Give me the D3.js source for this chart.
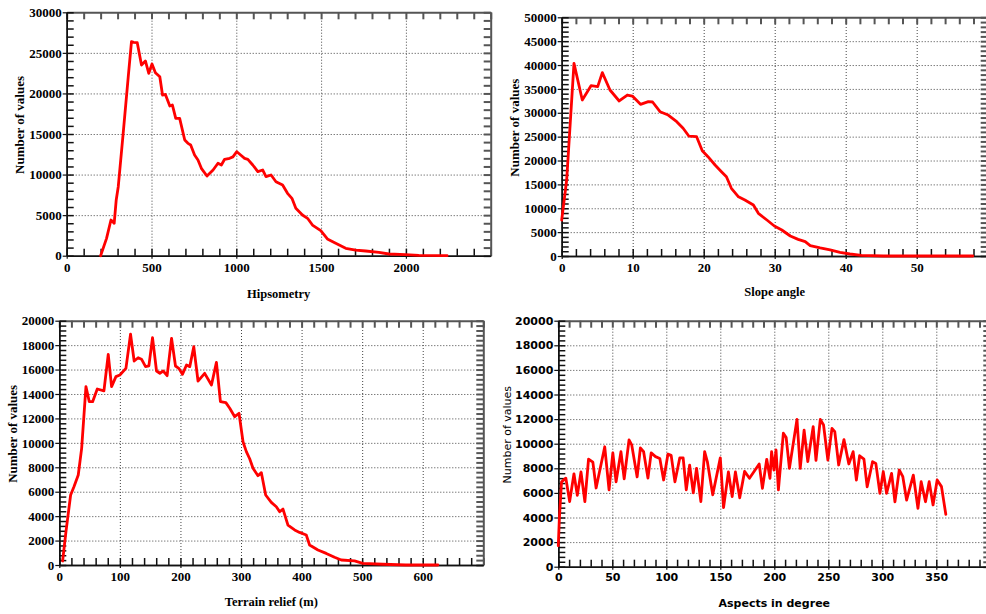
<!DOCTYPE html>
<html>
<head>
<meta charset="utf-8">
<script src="https://cdn.jsdelivr.net/npm/d3@7"></script>
<style>
  body { margin: 0; background: #fff; }
</style>
</head>
<body>
<svg id="chart" width="986" height="614"></svg>
<script>
// Hipsometry (elevation, number of cells)
const hipsoElev = [200, 235, 261, 280, 292, 304, 333, 363, 382, 395, 416, 441, 464, 484, 503, 523, 549, 565, 582, 608, 623, 643, 666, 696, 715, 731, 754, 774, 794, 827, 863, 892, 912, 931, 961, 980, 1003, 1029, 1049, 1068, 1097, 1127, 1156, 1175, 1205, 1234, 1273, 1302, 1328, 1351, 1390, 1420, 1449, 1498, 1537, 1586, 1645, 1704, 1763, 1841, 1900, 1998, 2076, 2243]
const hipsoCount = [0, 2140, 4400, 3990, 6870, 8500, 15090, 22060, 26380, 26300, 26250, 23500, 24000, 22480, 23630, 22560, 22060, 19800, 19880, 18450, 18580, 16930, 16930, 14260, 13850, 13650, 12410, 11800, 10770, 9820, 10560, 11390, 11180, 11880, 12000, 12180, 12820, 12350, 12000, 11880, 11180, 10360, 10560, 9740, 9950, 9120, 8710, 7690, 7070, 5840, 5020, 4610, 3780, 3080, 2060, 1530, 910, 700, 580, 420, 210, 130, 50, 0]

// Slope angle (degrees, number of cells)
const slopeDeg = [0, 0.7, 1.73, 2.9, 4.13, 5.07, 5.72, 6.8, 8.1, 9.24, 9.95, 11.1, 12.2, 12.8, 13.85, 15.0, 16.2, 17.1, 17.9, 19.0, 19.8, 20.6, 21.6, 22.5, 23.2, 23.9, 24.9, 25.8, 27.0, 27.7, 28.9, 29.95, 31.0, 32.2, 33.3, 34.3, 35.0, 36.4, 37.8, 39.2, 40.6, 42.2, 45.3, 57.9]
const slopeCount = [7540, 15920, 40360, 32680, 35680, 35470, 38400, 34770, 32470, 33720, 33510, 31770, 32330, 32260, 30230, 29530, 28130, 26750, 25130, 24990, 22060, 20800, 19060, 17660, 16610, 14180, 12400, 11730, 10680, 8940, 7540, 6280, 5450, 4190, 3490, 3000, 2160, 1680, 1260, 770, 420, 140, 0, 0]

// Terrain relief (m, number of cells)
const reliefM = [5.5, 11, 18.7, 24.2, 31.3, 36.9, 44, 49.5, 55, 62.7, 73.7, 80.8, 86.3, 93.5, 100, 110, 117.6, 123.6, 130.2, 135.7, 142.4, 147.9, 153.9, 160.5, 166, 171.5, 178, 185.3, 191.8, 197.3, 203.3, 210, 215.4, 222, 229, 240, 251.2, 259.4, 266, 275, 281.4, 289.6, 296.7, 303.3, 308.8, 314.3, 319.8, 328, 333.6, 340.7, 350, 358.3, 363.8, 369.3, 377.5, 388.5, 396.7, 407.7, 413.2, 427, 440.7, 454.4, 465.5, 487.4, 501, 534, 572, 625]
const reliefCount = [330, 2730, 5730, 6410, 7370, 9550, 14600, 13370, 13370, 14410, 14250, 17250, 14600, 15420, 15560, 16100, 18890, 16700, 16970, 16850, 16240, 16300, 18610, 15880, 15700, 15880, 15500, 18560, 16290, 16100, 15610, 16370, 16240, 17870, 15060, 15690, 14740, 16590, 13370, 13290, 12830, 12140, 12420, 10090, 9280, 8700, 7920, 7310, 7560, 5730, 5130, 4770, 4360, 4580, 3270, 2870, 2670, 2460, 1640, 1230, 950, 630, 410, 330, 140, 60, 0, 0]

// Aspect (degrees, number of cells)
const aspectDeg = [0, 1, 3, 7, 10.5, 14.5, 17.6, 21, 24.6, 28, 32, 35, 43, 47, 50.5, 53.5, 58, 61, 65.5, 68, 73, 76, 79, 83, 86, 90, 94, 97.5, 101.5, 104.5, 108, 112.5, 115.6, 118.5, 121.6, 125, 128, 132, 135.5, 138, 143, 150, 153, 157.5, 161, 164, 168, 172.5, 177, 186, 189, 193, 196, 197.5, 199.7, 201.6, 203.8, 208.4, 211, 214, 221, 224, 227.6, 231, 236, 238.6, 242.6, 245.6, 249.6, 253.4, 256, 259.6, 264.5, 269, 273, 276, 279, 283, 286, 291, 294, 297.8, 300.9, 304, 308.6, 311.7, 315.7, 319, 322.5, 328.7, 333, 336, 340, 343.4, 347, 350.8, 354.8, 358.8]
const aspectCount = [1700, 3950, 6900, 7200, 5300, 7550, 5800, 7700, 5300, 8750, 8500, 6400, 9750, 6250, 9250, 6900, 9350, 7150, 10300, 9900, 7300, 9650, 9350, 7200, 9250, 8950, 8800, 7050, 9150, 9050, 6900, 8850, 8850, 6250, 8250, 6000, 8000, 5300, 9350, 8550, 5850, 8850, 4800, 7700, 5700, 7700, 5600, 7750, 7190, 8350, 6370, 8730, 7190, 9350, 7860, 9490, 6240, 10850, 10500, 8000, 11980, 8000, 11100, 8540, 11380, 8650, 11980, 11520, 8670, 11250, 10980, 8270, 10330, 8350, 9350, 7050, 9020, 8740, 6500, 8540, 8400, 5970, 7720, 5970, 7590, 5280, 7860, 7320, 5420, 7450, 4750, 6910, 5280, 6910, 5020, 7050, 6510, 4260]

const svg = d3.select('#chart')
const serif = '"Liberation Serif", "Times New Roman", Times, serif'
const sans = '"DejaVu Sans", Verdana, sans-serif'

/**
 * Draws one histogram frame with its grid, ticks, labels and red curve.
 */
function drawPanel (p) {
  const x = d3.scaleLinear().domain([0, p.xMax]).range([p.left, p.right])
  const y = d3.scaleLinear().domain([0, p.yMax]).range([p.bottom, p.top])
  const h = p.bottom - p.top
  const w = p.right - p.left
  const g = svg.append('g')

  const steps = (step, max) => d3.range(0, Math.round(max / step) + 1).map(i => +(i * step).toFixed(4))
  const xMinor = steps(p.xMinor, p.xMax)
  const yMinor = steps(p.yMinor, p.yMax)
  const xGrid = steps(p.xMajor, p.xMax).filter(v => v > 0 && v < p.xMax)
  const yGrid = steps(p.yMajor, p.yMax).filter(v => v > 0 && v < p.yMax)
  const xLabels = steps(p.xMajor, p.xLabelMax)
  const yLabels = steps(p.yMajor, p.yMax)

  // dotted grid
  g.append('g')
    .attr('transform', `translate(0,${p.bottom})`)
    .call(d3.axisBottom(x).tickValues(xGrid).tickSize(-h).tickFormat(''))
    .call(a => a.select('.domain').remove())
  g.append('g')
    .attr('transform', `translate(${p.left},0)`)
    .call(d3.axisLeft(y).tickValues(yGrid).tickSize(-w).tickFormat(''))
    .call(a => a.select('.domain').remove())
  g.selectAll('.tick line')
    .attr('stroke', '#444')
    .attr('stroke-dasharray', '1,2')

  // inner minor ticks on all four sides
  const minor = [
    [d3.axisBottom(x).tickValues(xMinor), `translate(0,${p.bottom})`],
    [d3.axisTop(x).tickValues(xMinor), `translate(0,${p.top})`],
    [d3.axisLeft(y).tickValues(yMinor), `translate(${p.left},0)`],
    [d3.axisRight(y).tickValues(yMinor), `translate(${p.right},0)`]
  ]
  minor.forEach(([axis, tr], i) => {
    const dark = i === 0 || i === 2
    g.append('g')
      .attr('transform', tr)
      .call(axis.tickSize(-7).tickSizeOuter(0).tickFormat(''))
      .call(a => a.selectAll('line, path')
        .attr('stroke', dark ? '#111' : '#555')
        .attr('stroke-width', dark ? 1.5 : 2))
  })

  // labelled axes
  const fmt = d3.format('d')
  const xAxis = g.append('g')
    .attr('transform', `translate(0,${p.bottom})`)
    .call(d3.axisBottom(x).tickValues(xLabels).tickFormat(fmt).tickSize(3).tickPadding(4).tickSizeOuter(0))
  const yAxis = g.append('g')
    .attr('transform', `translate(${p.left},0)`)
    .call(d3.axisLeft(y).tickValues(yLabels).tickFormat(fmt).tickSize(4).tickPadding(1).tickSizeOuter(0))
  ;[xAxis, yAxis].forEach(a => {
    a.attr('font-family', null)
    a.select('.domain').attr('stroke', '#111').attr('stroke-width', 1.5)
    a.selectAll('.tick line').attr('stroke', '#111').attr('stroke-width', 1.2)
    a.selectAll('text')
      .attr('fill', '#000')
      .style('font-family', p.font)
      .style('font-weight', 'bold')
      .style('font-size', p.tickSize + 'px')
  })

  // axis titles
  g.append('text')
    .attr('x', (p.left + p.right) / 2)
    .attr('y', p.titleY)
    .attr('text-anchor', 'middle')
    .style('font-family', p.font)
    .style('font-weight', 'bold')
    .style('font-size', p.titleSize + 'px')
    .text(p.xTitle)
  g.append('text')
    .attr('transform', `translate(${p.yTitleX},${(p.top + p.bottom) / 2 - 9}) rotate(-90)`)
    .attr('text-anchor', 'middle')
    .attr('dominant-baseline', 'central')
    .style('font-family', p.font)
    .style('font-weight', p.yTitleWeight)
    .style('font-size', p.yTitleSize + 'px')
    .text('Number of values')

  // red curve
  const line = d3.line()
    .x(i => x(p.xs[i]))
    .y(i => y(p.ys[i]))
  g.append('path')
    .datum(d3.range(p.xs.length))
    .attr('d', line)
    .attr('fill', 'none')
    .attr('stroke', '#ff0000')
    .attr('stroke-width', 2.8)
    .attr('stroke-linejoin', 'round')
    .attr('stroke-linecap', 'round')
}

drawPanel({
  xs: hipsoElev, ys: hipsoCount,
  left: 66.7, right: 490.7, top: 12.3, bottom: 255.7,
  xMax: 2500, xMajor: 500, xMinor: 100, xLabelMax: 2000,
  yMax: 30000, yMajor: 5000, yMinor: 1000,
  xTitle: 'Hipsometry', titleY: 298, yTitleX: 19,
  font: serif, tickSize: 13, titleSize: 12.5, yTitleSize: 13, yTitleWeight: 'bold'
})

drawPanel({
  xs: slopeDeg, ys: slopeCount,
  left: 561.7, right: 987.7, top: 17.3, bottom: 256,
  xMax: 60, xMajor: 10, xMinor: 2, xLabelMax: 50,
  yMax: 50000, yMajor: 5000, yMinor: 1000,
  xTitle: 'Slope angle', titleY: 296, yTitleX: 514,
  font: serif, tickSize: 13, titleSize: 12.5, yTitleSize: 13, yTitleWeight: 'bold'
})

drawPanel({
  xs: reliefM, ys: reliefCount,
  left: 59.3, right: 483.3, top: 320.7, bottom: 565,
  xMax: 700, xMajor: 100, xMinor: 20, xLabelMax: 600,
  yMax: 20000, yMajor: 2000, yMinor: 400,
  xTitle: 'Terrain relief (m)', titleY: 606, yTitleX: 12,
  font: serif, tickSize: 13, titleSize: 12.5, yTitleSize: 13, yTitleWeight: 'bold'
})

drawPanel({
  xs: aspectDeg, ys: aspectCount,
  left: 558.3, right: 990.3, top: 320.7, bottom: 566.7,
  xMax: 400, xMajor: 50, xMinor: 10, xLabelMax: 350,
  yMax: 20000, yMajor: 2000, yMinor: 400,
  xTitle: 'Aspects in degree', titleY: 607, yTitleX: 507,
  font: sans, tickSize: 11, titleSize: 11, yTitleSize: 11, yTitleWeight: 'normal'
})
</script>
</body>
</html>
